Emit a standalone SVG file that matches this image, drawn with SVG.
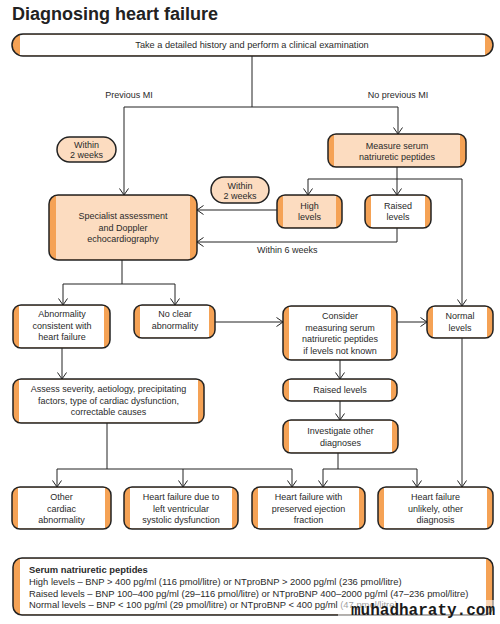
<svg xmlns="http://www.w3.org/2000/svg" width="500" height="624" viewBox="0 0 500 624">
<style>
.t{font-family:"Liberation Sans",Arial,sans-serif;font-size:9px;fill:#2a2a2a;text-anchor:middle}
.l{text-anchor:start}
.lg{font-size:9.4px}
.bar{fill:#f5a255}
.pe{fill:#fcdcc0}
.wh{fill:#ffffff}
.ol{fill:none;stroke:#222;stroke-width:1.5}
.c{fill:none;stroke:#222;stroke-width:1}
</style>
<defs>
<marker id="a" markerUnits="userSpaceOnUse" markerWidth="8" markerHeight="10" viewBox="0 0 8 10" refX="7.5" refY="5" orient="auto">
<path d="M1,0.5 L7.5,5 L1,9.5" fill="none" stroke="#222" stroke-width="1"/>
</marker>
</defs>
<rect width="500" height="624" fill="#fff"/>
<text x="12" y="20" style="font-family:'Liberation Sans',Arial,sans-serif;font-size:18px;font-weight:bold;fill:#222">Diagnosing heart failure</text>

<g id="connectors" class="c">
<path d="M252,56 V107 M124,107 H398"/>
<path d="M124,107 V195" marker-end="url(#a)"/>
<path d="M398,107 V134" marker-end="url(#a)"/>
<path d="M397,167 V179 M308,179 H462"/>
<path d="M308,179 V195" marker-end="url(#a)"/>
<path d="M397,179 V195" marker-end="url(#a)"/>
<path d="M462,179 V306" marker-end="url(#a)"/>
<path d="M277,210 H197" marker-end="url(#a)"/>
<path d="M397,228 V242 H197" marker-end="url(#a)"/>
<path d="M122,260 V284 M63,284 H175"/>
<path d="M63,284 V305" marker-end="url(#a)"/>
<path d="M175,284 V305" marker-end="url(#a)"/>
<path d="M215,322 H283" marker-end="url(#a)"/>
<path d="M397,322 H427" marker-end="url(#a)"/>
<path d="M62,348 V379" marker-end="url(#a)"/>
<path d="M340,360 V379" marker-end="url(#a)"/>
<path d="M340,401 V420" marker-end="url(#a)"/>
<path d="M107,423 V469 M57,469 H292"/>
<path d="M57,469 V487" marker-end="url(#a)"/>
<path d="M183,469 V487" marker-end="url(#a)"/>
<path d="M292,469 V487" marker-end="url(#a)"/>
<path d="M338,453 V469 M323,469 H417"/>
<path d="M323,469 V487" marker-end="url(#a)"/>
<path d="M417,469 V487" marker-end="url(#a)"/>
<path d="M462,338 V487" marker-end="url(#a)"/>
</g>
<text class="t" x="129" y="98">Previous MI</text>
<text class="t" x="398" y="98">No previous MI</text>
<text class="t l" x="257" y="253">Within 6 weeks</text>

<g id="history">
<rect class="bar" x="12" y="34" width="481" height="22" rx="11"/>
<rect class="wh" x="20" y="34.5" width="465" height="21"/>
<rect class="ol" x="12" y="34" width="481" height="22" rx="11"/>
<text class="t" x="252" y="48" style="font-size:9.2px">Take a detailed history and perform a clinical examination</text>
</g>

<g id="within1">
<rect class="pe" x="57" y="137" width="59" height="25" rx="12.5"/>
<rect class="ol" x="57" y="137" width="59" height="25" rx="12.5"/>
<text class="t" x="86.5" y="147.5">Within</text>
<text class="t" x="86.5" y="158">2 weeks</text>
</g>

<g id="within2">
<rect class="pe" x="211" y="177" width="58" height="26" rx="13"/>
<rect class="ol" x="211" y="177" width="58" height="26" rx="13"/>
<text class="t" x="240" y="188.5">Within</text>
<text class="t" x="240" y="199">2 weeks</text>
</g>

<g id="specialist">
<rect class="bar" x="49" y="195" width="148" height="65" rx="9"/>
<rect class="pe" x="56" y="195.5" width="134" height="64"/>
<rect class="ol" x="49" y="195" width="148" height="65" rx="9"/>
<text class="t" x="123" y="219">Specialist assessment</text>
<text class="t" x="123" y="230.5">and Doppler</text>
<text class="t" x="123" y="242">echocardiography</text>
</g>

<g id="measure">
<rect class="bar" x="328" y="134" width="138" height="33" rx="8"/>
<rect class="pe" x="334" y="134.5" width="126" height="32"/>
<rect class="ol" x="328" y="134" width="138" height="33" rx="8"/>
<text class="t" x="397" y="148.5">Measure serum</text>
<text class="t" x="397" y="160">natriuretic peptides</text>
</g>

<g id="high">
<rect class="bar" x="277" y="195" width="65" height="33" rx="8"/>
<rect class="pe" x="283" y="195.5" width="53" height="32"/>
<rect class="ol" x="277" y="195" width="65" height="33" rx="8"/>
<text class="t" x="309.5" y="208.5">High</text>
<text class="t" x="309.5" y="220">levels</text>
</g>

<g id="raised1">
<rect class="bar" x="365" y="195" width="66" height="33" rx="8"/>
<rect class="wh" x="371" y="195.5" width="54" height="32"/>
<rect class="ol" x="365" y="195" width="66" height="33" rx="8"/>
<text class="t" x="398" y="208.5">Raised</text>
<text class="t" x="398" y="220">levels</text>
</g>

<g id="abnormality">
<rect class="bar" x="13" y="305" width="97" height="43" rx="8"/>
<rect class="wh" x="19" y="305.5" width="85" height="42"/>
<rect class="ol" x="13" y="305" width="97" height="43" rx="8"/>
<text class="t" x="62" y="317">Abnormality</text>
<text class="t" x="62" y="328.5">consistent with</text>
<text class="t" x="62" y="340">heart failure</text>
</g>

<g id="noclear">
<rect class="bar" x="134" y="305" width="81" height="33" rx="8"/>
<rect class="wh" x="140" y="305.5" width="69" height="32"/>
<rect class="ol" x="134" y="305" width="81" height="33" rx="8"/>
<text class="t" x="175" y="317">No clear</text>
<text class="t" x="175" y="328.5">abnormality</text>
</g>

<g id="consider">
<rect class="bar" x="283" y="306" width="114" height="54" rx="8"/>
<rect class="wh" x="289" y="306.5" width="102" height="53"/>
<rect class="ol" x="283" y="306" width="114" height="54" rx="8"/>
<text class="t" x="340" y="319">Consider</text>
<text class="t" x="340" y="330.5">measuring serum</text>
<text class="t" x="340" y="342">natriuretic peptides</text>
<text class="t" x="340" y="353.5">if levels not known</text>
</g>

<g id="normal">
<rect class="bar" x="427" y="306" width="66" height="32" rx="8"/>
<rect class="wh" x="433" y="306.5" width="54" height="31"/>
<rect class="ol" x="427" y="306" width="66" height="32" rx="8"/>
<text class="t" x="460" y="319">Normal</text>
<text class="t" x="460" y="330.5">levels</text>
</g>

<g id="assess">
<rect class="bar" x="13" y="379" width="191" height="44" rx="8"/>
<rect class="wh" x="19" y="379.5" width="179" height="43"/>
<rect class="ol" x="13" y="379" width="191" height="44" rx="8"/>
<text class="t" x="108.5" y="392">Assess severity, aetiology, precipitating</text>
<text class="t" x="108.5" y="403.5">factors, type of cardiac dysfunction,</text>
<text class="t" x="108.5" y="415">correctable causes</text>
</g>

<g id="raised2">
<rect class="bar" x="283" y="379" width="114" height="22" rx="8"/>
<rect class="wh" x="289" y="379.5" width="102" height="21"/>
<rect class="ol" x="283" y="379" width="114" height="22" rx="8"/>
<text class="t" x="340" y="393">Raised levels</text>
</g>

<g id="investigate">
<rect class="bar" x="283" y="420" width="115" height="33" rx="8"/>
<rect class="wh" x="289" y="420.5" width="103" height="32"/>
<rect class="ol" x="283" y="420" width="115" height="33" rx="8"/>
<text class="t" x="340.5" y="434">Investigate other</text>
<text class="t" x="340.5" y="445.5">diagnoses</text>
</g>

<g id="other">
<rect class="bar" x="12" y="487" width="99" height="42" rx="8"/>
<rect class="wh" x="18" y="487.5" width="87" height="41"/>
<rect class="ol" x="12" y="487" width="99" height="42" rx="8"/>
<text class="t" x="61.5" y="500">Other</text>
<text class="t" x="61.5" y="511.5">cardiac</text>
<text class="t" x="61.5" y="523">abnormality</text>
</g>

<g id="lvsd">
<rect class="bar" x="124" y="487" width="114" height="42" rx="8"/>
<rect class="wh" x="130" y="487.5" width="102" height="41"/>
<rect class="ol" x="124" y="487" width="114" height="42" rx="8"/>
<text class="t" x="181" y="500">Heart failure due to</text>
<text class="t" x="181" y="511.5">left ventricular</text>
<text class="t" x="181" y="523">systolic dysfunction</text>
</g>

<g id="hfpef">
<rect class="bar" x="252" y="487" width="113" height="42" rx="8"/>
<rect class="wh" x="258" y="487.5" width="101" height="41"/>
<rect class="ol" x="252" y="487" width="113" height="42" rx="8"/>
<text class="t" x="308.5" y="500">Heart failure with</text>
<text class="t" x="308.5" y="511.5">preserved ejection</text>
<text class="t" x="308.5" y="523">fraction</text>
</g>

<g id="unlikely">
<rect class="bar" x="378" y="487" width="115" height="42" rx="8"/>
<rect class="wh" x="384" y="487.5" width="103" height="41"/>
<rect class="ol" x="378" y="487" width="115" height="42" rx="8"/>
<text class="t" x="435.5" y="500">Heart failure</text>
<text class="t" x="435.5" y="511.5">unlikely, other</text>
<text class="t" x="435.5" y="523">diagnosis</text>
</g>

<g id="legend">
<rect class="bar" x="13" y="558" width="480" height="57" rx="9"/>
<rect class="wh" x="20" y="558.5" width="466" height="56"/>
<rect class="ol" x="13" y="558" width="480" height="57" rx="9"/>
<text class="t l lg" x="29" y="573" style="font-weight:bold">Serum natriuretic peptides</text>
<text class="t l lg" x="29" y="585">High levels – BNP &gt; 400 pg/ml (116 pmol/litre) or NTproBNP &gt; 2000 pg/ml (236 pmol/litre)</text>
<text class="t l lg" x="29" y="596.5">Raised levels – BNP 100–400 pg/ml (29–116 pmol/litre) or NTproBNP 400–2000 pg/ml (47–236 pmol/litre)</text>
<text class="t l lg" x="29" y="608">Normal levels – BNP &lt; 100 pg/ml (29 pmol/litre) or NTproBNP &lt; 400 pg/ml (47 pmol/litre)</text>
</g>
<rect x="338" y="600" width="160" height="18" fill="#fff" opacity="0.55"/>
<text x="351" y="615" style="font-family:'Liberation Mono','Courier New',monospace;font-size:16px;font-weight:bold;fill:#1a1a1a">muhadharaty.com</text>
</svg>
